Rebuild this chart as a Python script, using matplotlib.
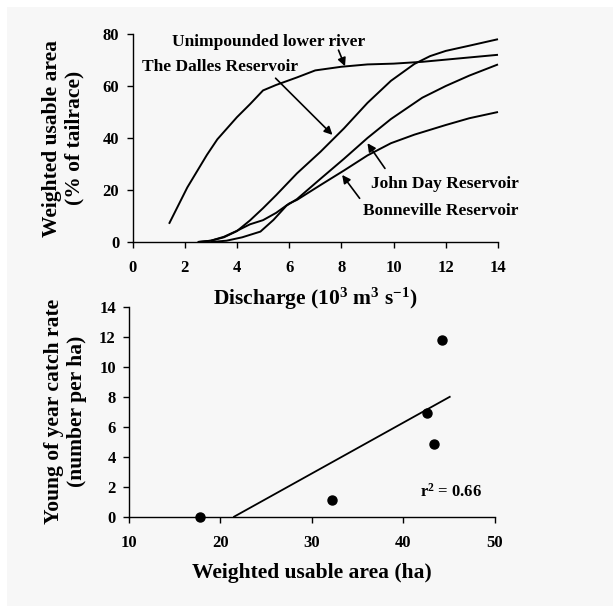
import numpy as np
import matplotlib
matplotlib.use("Agg")
import matplotlib.pyplot as plt
from matplotlib.patches import Rectangle

plt.rcParams['font.family'] = ['Liberation Serif', 'DejaVu Serif']
plt.rcParams['font.weight'] = 'bold'
plt.rcParams['mathtext.fontset'] = 'custom'
plt.rcParams['mathtext.rm'] = 'Liberation Serif:bold'
plt.rcParams['mathtext.bf'] = 'Liberation Serif:bold'
plt.rcParams['mathtext.it'] = 'Liberation Serif:bold'

# ---------------- data: top panel ----------------
unimp_x = [1.4, 2.1, 2.85, 3.25, 4.0, 4.5, 5.0, 5.5, 6.3, 7.0, 8.0, 9.0, 10.0, 11.1, 12.6, 14.0]
unimp_y = [7, 21, 33.5, 39.5, 48, 53, 58.3, 60.4, 63.3, 66, 67.4, 68.3, 68.6, 69.3, 70.7, 72]

dalles_x = [2.5, 3.0, 3.5, 4.0, 4.5, 5.0, 5.5, 6.3, 7.2, 8.1, 9.0, 9.9, 10.8, 11.4, 12.0, 12.9, 14.0]
dalles_y = [0, 0.5, 1.8, 4.2, 8.3, 13, 18, 26.4, 34.7, 43.7, 53.5, 62, 68.5, 71.5, 73.5, 75.5, 78]

johnday_x = [3.0, 3.6, 4.2, 4.9, 5.4, 5.9, 6.3, 7.2, 8.1, 9.0, 9.9, 11.1, 12.0, 12.9, 14.0]
johnday_y = [0, 0.5, 1.8, 4, 8.5, 14, 16.5, 24.3, 32, 40, 47.3, 55.5, 60, 64, 68.3]

bonn_x = [2.5, 3.0, 3.5, 4.0, 4.5, 5.0, 5.5, 6.0, 6.3, 7.2, 8.1, 9.0, 9.9, 10.8, 12.0, 12.9, 14.0]
bonn_y = [0, 0.5, 2.0, 4.3, 6.8, 8.4, 11.2, 14.8, 16.2, 21.9, 27.5, 33.3, 38, 41.3, 45, 47.6, 50]

top_xticks = [0, 2, 4, 6, 8, 10, 12, 14]
top_yticks = [0, 20, 40, 60, 80]

# ---------------- data: bottom panel ----------------
wua_ha = [17.8, 32.2, 42.6, 43.4, 44.3]
catch_rate = [0.0, 1.1, 6.93, 4.87, 11.75]
bot_xticks = [10, 20, 30, 40, 50]
bot_yticks = [0, 2, 4, 6, 8, 10, 12, 14]
fit_x_end = 45.1

fig = plt.figure(figsize=(6.13, 6.06), dpi=100)
fig.patch.set_facecolor('white')
fig.patches.append(Rectangle((7/613, 0), 1, 1 - 7/606, transform=fig.transFigure,
                             facecolor='#f7f7f7', edgecolor='none', zorder=-10))

def style(ax):
    ax.set_facecolor('none')
    for s in ['top', 'right']:
        ax.spines[s].set_visible(False)
    for s in ['left', 'bottom']:
        ax.spines[s].set_linewidth(1.0)
    ax.tick_params(direction='out', length=4, width=1.0, labelsize=12)
    ax.tick_params(axis='x', pad=9)
    ax.tick_params(axis='y', pad=5.5)
    for lab in ax.get_xticklabels() + ax.get_yticklabels():
        lab.set_fontweight('bold')

# ---------------- top panel ----------------
ax1 = fig.add_axes([132.5/613, 1 - 242/606, (498 - 132.5)/613, (242 - 34)/606])
lw = 1.4
for xs, ys in [(unimp_x, unimp_y), (dalles_x, dalles_y), (johnday_x, johnday_y), (bonn_x, bonn_y)]:
    ax1.plot(xs, ys, color='black', lw=lw, solid_capstyle='butt')
ax1.set_xlim(0, 14)
ax1.set_ylim(0, 80)
ax1.set_xticks(top_xticks)
ax1.set_yticks(top_yticks)
style(ax1)
ax1.set_xlabel('Discharge (10$^{3}$ m$^{3}$ s$^{-1}$)', fontsize=15.5, fontweight='bold', labelpad=7)
ax1.set_ylabel('Weighted usable area\n(% of tailrace)', fontsize=15.5, fontweight='bold', labelpad=13, linespacing=1.2)

arrowprops = dict(arrowstyle='-|>', color='black', lw=1.2, mutation_scale=12, shrinkA=0, shrinkB=0)
ax1.text(5.2, 77.0, 'Unimpounded lower river', fontsize=12.5, fontweight='bold', ha='center', va='center')
ax1.annotate('', xy=(8.14, 67.6), xytext=(7.89, 73.8), arrowprops=arrowprops)
ax1.text(3.35, 67.5, 'The Dalles Reservoir', fontsize=12.5, fontweight='bold', ha='center', va='center')
ax1.annotate('', xy=(7.66, 41.2), xytext=(5.48, 63), arrowprops=arrowprops)
ax1.text(11.95, 22.2, 'John Day Reservoir', fontsize=12.5, fontweight='bold', ha='center', va='center')
ax1.annotate('', xy=(9.0, 38.0), xytext=(9.67, 28.3), arrowprops=arrowprops)
ax1.text(11.8, 11.8, 'Bonneville Reservoir', fontsize=12.5, fontweight='bold', ha='center', va='center')
ax1.annotate('', xy=(8.03, 25.8), xytext=(8.7, 16.8), arrowprops=arrowprops)

# ---------------- bottom panel ----------------
ax2 = fig.add_axes([129/613, 1 - 516.7/606, (494.5 - 129)/613, (516.7 - 306.7)/606])
ax2.plot(wua_ha, catch_rate, 'o', color='black', markersize=6.5)
slope, intercept = np.polyfit(wua_ha, catch_rate, 1)
x0 = -intercept / slope
fx = np.array([x0, fit_x_end])
ax2.plot(fx, slope * fx + intercept, color='black', lw=1.3)
ax2.set_xlim(10, 50)
ax2.set_ylim(0, 14)
ax2.set_xticks(bot_xticks)
ax2.set_yticks(bot_yticks)
style(ax2)
ax2.set_xlabel('Weighted usable area (ha)', fontsize=15.5, fontweight='bold', labelpad=9)
ax2.set_ylabel('Young of year catch rate\n(number per ha)', fontsize=15.5, fontweight='bold', labelpad=9, linespacing=1.2)
ax2.text(45.3, 1.67, 'r$^{2}$ = 0.66', fontsize=12, fontweight='bold', ha='center', va='center')

for ax in (ax1, ax2):
    for l in ax.lines:
        l.set_clip_on(False)

fig.savefig('out.png', dpi=100)
